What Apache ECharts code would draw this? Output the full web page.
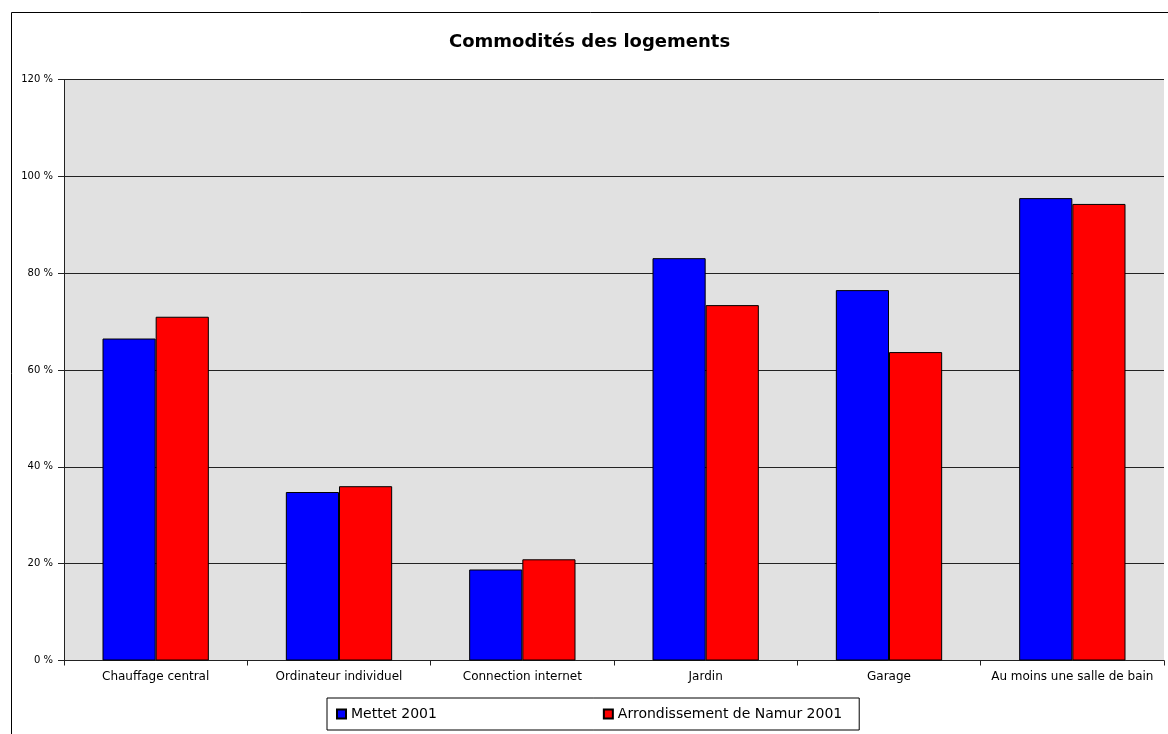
<!DOCTYPE html>
<html>
<head>
<meta charset="utf-8">
<script src="https://cdn.jsdelivr.net/npm/echarts@6/dist/echarts.min.js"></script>
<style>
html,body{margin:0;padding:0;background:#fff;}
#chart{width:1168px;height:734px;}
</style>
</head>
<body>
<div id="chart"></div>
<script>
const categories = ["Chauffage central", "Ordinateur individuel", "Connection internet", "Jardin", "Garage", "Au moins une salle de bain"];
const mettet2001 = [66.5, 34.8, 18.8, 83.1, 76.5, 95.5];
const namur2001 = [71.0, 36.0, 20.9, 73.4, 63.7, 94.3];
const seriesNames = ["Mettet 2001", "Arrondissement de Namur 2001"];
const yTicks = { min: 0, max: 120, interval: 20 };
const titleText = "Commodités des logements";

const chart = echarts.init(document.getElementById('chart'), null, { renderer: 'canvas' });
const font = 'DejaVu Sans';
chart.setOption({
  animation: false,
  backgroundColor: '#ffffff',
  title: {
    text: titleText,
    left: 449, top: 33, padding: 0,
    textStyle: { fontFamily: font, fontSize: 18, fontWeight: 'bold', color: '#000' }
  },
  graphic: [{
    type: 'rect', left: 9, top: 10, z: -1,
    shape: { x: 0, y: 0, width: 1200, height: 800 },
    style: { fill: 'none', stroke: '#000', lineWidth: 1 }
  }, {
    type: 'rect', left: 64, top: 79.5, z: -2, silent: true,
    shape: { width: 1100, height: 581 },
    style: { fill: '#e1e1e1' }
  }],
  legend: {
    data: seriesNames,
    left: 327, top: 698,
    padding: [9, 17, 9, 9],
    itemGap: 166,
    itemWidth: 9, itemHeight: 9,
    borderColor: '#000', borderWidth: 1,
    backgroundColor: '#fff',
    icon: 'rect',
    textStyle: { fontFamily: font, fontSize: 14, color: '#000' }
  },
  grid: { left: 64, right: 4, top: 79.5, bottom: 73.5, containLabel: false },
  xAxis: {
    type: 'category',
    data: categories,
    axisLine: { show: true, lineStyle: { color: '#222', width: 1 } },
    axisTick: { show: true, length: 5, lineStyle: { color: '#222' } },
    axisLabel: { fontFamily: font, fontSize: 12, color: '#000', margin: 10, interval: 0 }
  },
  yAxis: {
    type: 'value',
    min: yTicks.min, max: yTicks.max, interval: yTicks.interval,
    axisLine: { show: true, lineStyle: { color: '#222', width: 1 } },
    axisTick: { show: true, length: 6, lineStyle: { color: '#222' } },
    axisLabel: { fontFamily: font, fontSize: 10, color: '#000', margin: 11, formatter: '{value} %' },
    splitLine: { show: true, lineStyle: { color: '#222', width: 1 } }
  },
  series: [{
    name: seriesNames[0], type: 'bar', data: mettet2001,
    barWidth: '29%', barGap: '0%',
    itemStyle: { color: '#0000ff', borderColor: '#000', borderWidth: 1 }
  }, {
    name: seriesNames[1], type: 'bar', data: namur2001,
    barWidth: '29%', barGap: '0%',
    itemStyle: { color: '#ff0000', borderColor: '#000', borderWidth: 1 }
  }]
});
</script>
</body>
</html>
